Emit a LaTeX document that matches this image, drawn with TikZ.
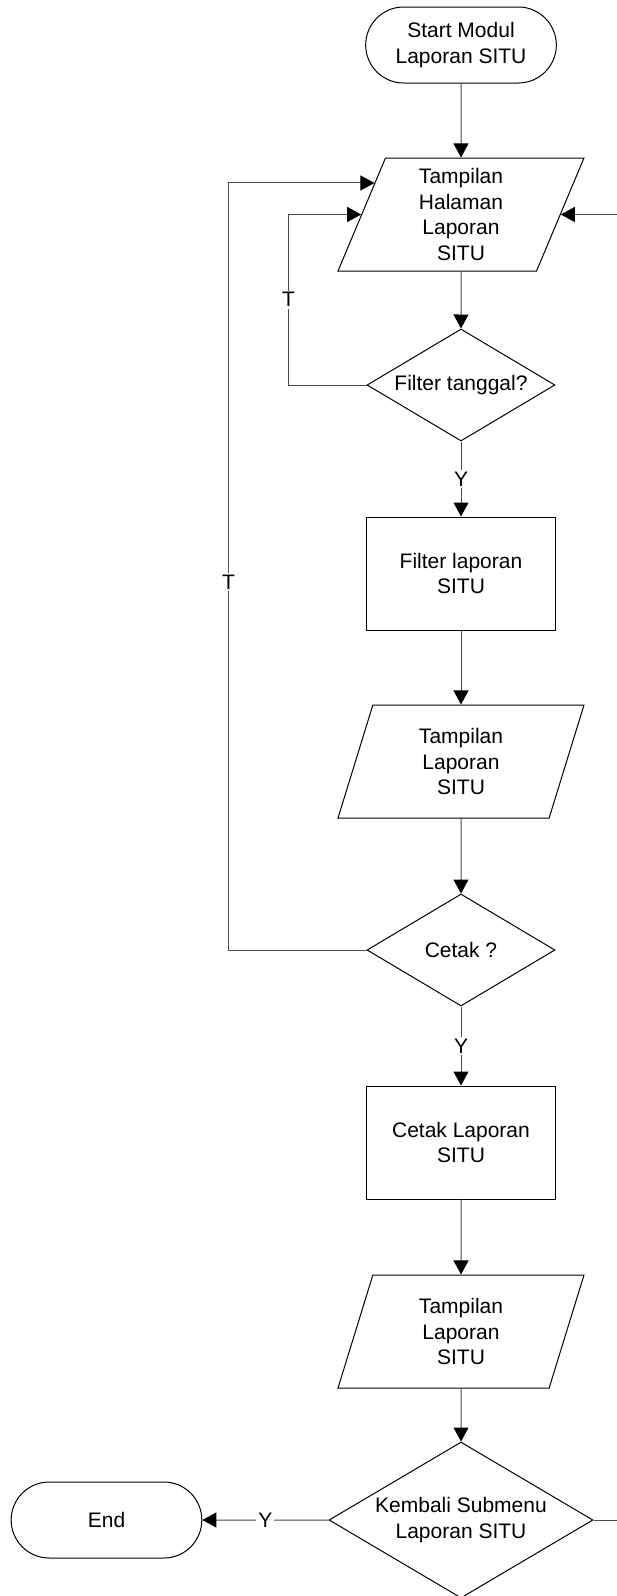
\documentclass[tikz,border=0pt]{standalone}
\usepackage{fontspec}
\setmainfont{Liberation Sans}
\usetikzlibrary{shapes.geometric, shapes.misc, arrows.meta}
\tikzset{
  terminal/.style={rounded rectangle, draw, line width=0.5pt, minimum width=102pt, minimum height=38pt, align=center},
  inout/.style={trapezium, trapezium left angle=63.6, trapezium right angle=116.4, trapezium stretches body, draw, line width=0.5pt, minimum width=123pt, minimum height=56.5pt, align=center, inner sep=1pt},
  process/.style={rectangle, draw, line width=0.5pt, minimum width=94.5pt, minimum height=56.5pt, align=center},
  decision/.style={diamond, draw, line width=0.5pt, aspect=1.68, minimum width=94pt, minimum height=56pt, align=center, inner sep=0pt},
  flow/.style={draw=black!70, line width=0.5pt, -{Triangle[length=7pt,width=7.5pt,black]}},
  lbl/.style={fill=white, inner sep=1pt}
}
\begin{document}
\begin{tikzpicture}[x=0.5pt, y=-0.5pt, font=\fontsize{10.5}{12.7}\selectfont] % one unit = one pixel
 \useasboundingbox (0,0) rectangle (616,1596);
 % main column
 \node[terminal] (start) at (461,45) {Start Modul\\Laporan SITU};
 \node[inout] (p1) at (461,214.5) {Tampilan\\Halaman\\Laporan\\SITU};
 \node[decision] (d1) at (461,385) {Filter tanggal?};
 \node[process] (b1) at (461,573.5) {Filter laporan\\SITU};
 \node[inout] (p2) at (461,761.5) {Tampilan\\Laporan\\SITU};
 \node[decision] (d2) at (461,950) {Cetak ?};
 \node[process] (b2) at (461,1142.5) {Cetak Laporan\\SITU};
 \node[inout] (p3) at (461,1331.5) {Tampilan\\Laporan\\SITU};
 \node[decision, aspect=1.69, minimum width=132pt, minimum height=78pt] (d3) at (461,1520) {Kembali Submenu\\Laporan SITU};
 \node[terminal] (end) at (106.5,1520) {End};
 % straight flow
 \draw[flow] (start) -- (p1);
 \draw[flow] (p1) -- (d1);
 \draw[flow] (d1) -- node[lbl]{Y} (b1);
 \draw[flow] (b1) -- (p2);
 \draw[flow] (p2) -- (d2);
 \draw[flow] (d2) -- node[lbl]{Y} (b2);
 \draw[flow] (b2) -- (p3);
 \draw[flow] (p3) -- (d3);
 \draw[flow] (d3.west) -- node[lbl]{Y} (end);
 % loops back to the page
 \draw[flow] (d1.west) -- ++(-78,0) |- node[lbl, pos=0.25]{T} (p1.west);
 \draw[flow] (d2.west) -- ++(-138,0) |- node[lbl, pos=0.24]{T} (p1.160);
 \draw[flow] (d3.east) -- ++(50,0) |- (p1.east); % runs off the right edge
\end{tikzpicture}
\end{document}
